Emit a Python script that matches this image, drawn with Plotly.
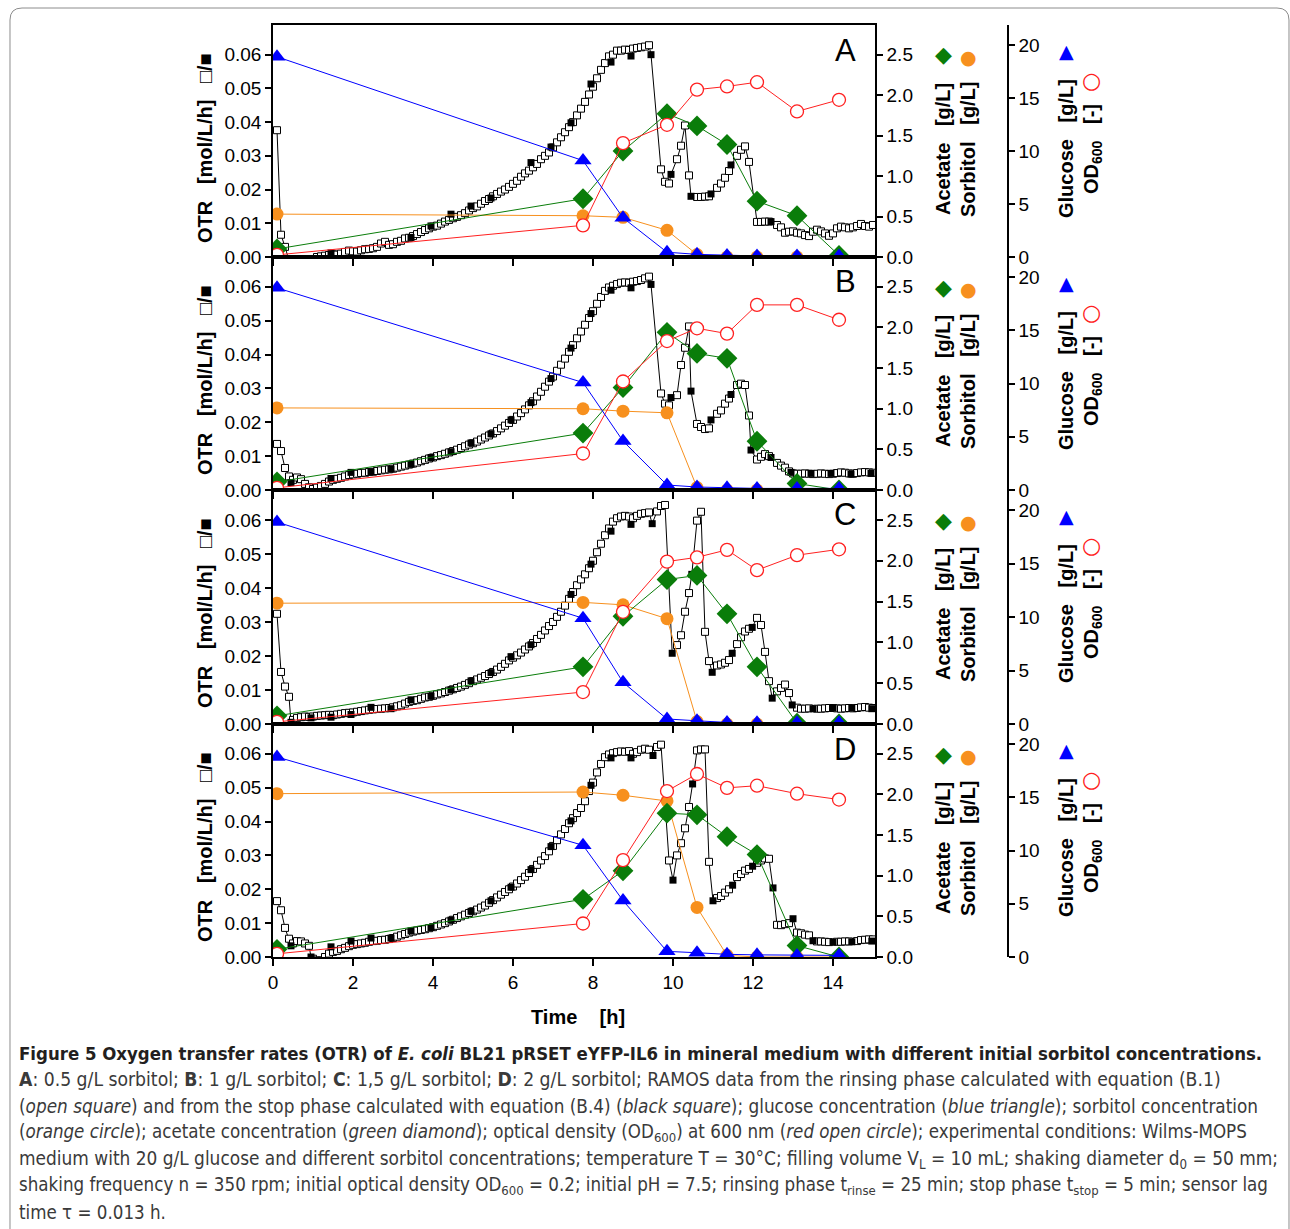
import plotly.graph_objects as go

W, H = 1290, 1229

# ---------------- data ----------------
# RAMOS rinsing-phase OTR (open squares), sampled every 0.1 h from 0.1 h to 15.0 h
T_OPEN = [round(0.1 * k, 1) for k in range(1, 151)]

OTR_OPEN_A = [
    0.0376, 0.0066, 0.0030, -0.001, -0.001, -0.001, -0.001, -0.001, -0.001, -0.001,
    0.0000, 0.0002, 0.0004, 0.0006, 0.0008, 0.0007, 0.0010, 0.0015, 0.0019, 0.0017,
    0.0016, 0.0020, 0.0023, 0.0024, 0.0026, 0.0030, 0.0040, 0.0045, 0.0036, 0.0038,
    0.0045, 0.0048, 0.0055, 0.0057, 0.0062, 0.0068, 0.0074, 0.0080, 0.0085, 0.0090,
    0.0093, 0.0099, 0.0105, 0.0110, 0.0115, 0.0119, 0.0124, 0.0130, 0.0138, 0.0145,
    0.0150, 0.0158, 0.0166, 0.0172, 0.0180, 0.0187, 0.0194, 0.0200, 0.0208, 0.0217,
    0.0226, 0.0238, 0.0248, 0.0256, 0.0266, 0.0276, 0.0290, 0.0300, 0.0310, 0.0325,
    0.0340, 0.0355, 0.0370, 0.0385, 0.0400, 0.0420, 0.0440, 0.0460, 0.0482, 0.0505,
    0.0530, 0.0555, 0.0575, 0.0595, 0.0600, 0.0612, 0.0612, 0.0615, 0.0614, 0.0618,
    0.0620, 0.0622, 0.0624, 0.0628, None, None, 0.0260, 0.0223, 0.0218, None,
    0.0290, 0.0330, 0.0390, 0.0242, None, 0.0178, 0.0178, 0.0179, 0.0180, None,
    0.0205, 0.0218, 0.0235, 0.0255, None, 0.0300, 0.0318, 0.0328, 0.0282, None,
    0.0104, 0.0104, 0.0105, 0.0105, None, 0.0095, 0.0088, 0.0072, 0.0075, 0.0076,
    0.0072, 0.0070, 0.0065, 0.0062, 0.0075, 0.0081, 0.0076, 0.0070, 0.0063, 0.0070,
    0.0085, 0.0090, 0.0088, 0.0085, 0.0088, 0.0092, 0.0098, 0.0092, 0.0090, 0.0095,
]
OTR_OPEN_B = [
    0.0136, 0.0115, 0.0065, 0.0040, 0.0030, 0.0037, 0.0032, 0.0018, 0.0008, 0.0003,
    0.0007, 0.0012, 0.0018, 0.0025, 0.0030, 0.0033, 0.0036, 0.0040, 0.0044, 0.0046,
    0.0048, 0.0050, 0.0051, 0.0053, 0.0054, 0.0056, 0.0058, 0.0060, 0.0061, 0.0063,
    0.0066, 0.0069, 0.0072, 0.0075, 0.0078, 0.0081, 0.0085, 0.0089, 0.0093, 0.0096,
    0.0100, 0.0103, 0.0107, 0.0111, 0.0115, 0.0119, 0.0124, 0.0129, 0.0134, 0.0138,
    0.0143, 0.0149, 0.0155, 0.0161, 0.0167, 0.0174, 0.0182, 0.0190, 0.0198, 0.0207,
    0.0217, 0.0227, 0.0238, 0.0250, 0.0262, 0.0276, 0.0290, 0.0305, 0.0320, 0.0335,
    0.0352, 0.0370, 0.0388, 0.0408, 0.0428, 0.0448, 0.0468, 0.0488, 0.0508, 0.0528,
    0.0550, 0.0570, 0.0588, 0.0598, 0.0603, 0.0608, 0.0612, 0.0613, 0.0612, 0.0615,
    0.0617, 0.0620, 0.0625, 0.0630, None, None, 0.0285, 0.0255, 0.0250, None,
    0.0280, 0.0369, 0.0420, 0.0483, None, 0.0195, 0.0186, 0.0180, 0.0182, None,
    0.0225, 0.0235, 0.0255, 0.0270, None, 0.0310, 0.0314, 0.0310, 0.0220, None,
    0.0090, 0.0098, 0.0106, 0.0100, None, 0.0080, 0.0072, 0.0066, 0.0055, 0.0049,
    0.0048, 0.0048, 0.0049, 0.0048, 0.0047, 0.0048, 0.0049, 0.0048, 0.0047, 0.0048,
    0.0050, 0.0052, 0.0051, 0.0049, 0.0048, 0.0050, 0.0052, 0.0053, 0.0052, 0.0051,
]
OTR_OPEN_C = [
    0.0324, 0.0153, 0.0110, 0.0080, 0.0012, 0.0018, 0.0020, 0.0022, 0.0021, 0.0022,
    0.0024, 0.0025, 0.0026, 0.0027, 0.0026, 0.0028, 0.0030, 0.0032, 0.0033, 0.0034,
    0.0036, 0.0038, 0.0040, 0.0042, 0.0043, 0.0044, 0.0045, 0.0046, 0.0047, 0.0049,
    0.0052, 0.0055, 0.0060, 0.0065, 0.0068, 0.0070, 0.0074, 0.0078, 0.0080, 0.0083,
    0.0087, 0.0090, 0.0094, 0.0098, 0.0102, 0.0106, 0.0110, 0.0115, 0.0120, 0.0126,
    0.0131, 0.0136, 0.0141, 0.0147, 0.0153, 0.0160, 0.0168, 0.0177, 0.0187, 0.0195,
    0.0202, 0.0210, 0.0219, 0.0228, 0.0238, 0.0250, 0.0262, 0.0275, 0.0288, 0.0300,
    0.0315, 0.0330, 0.0348, 0.0368, 0.0388, 0.0408, 0.0425, 0.0440, 0.0458, 0.0480,
    0.0505, 0.0530, 0.0555, 0.0575, 0.0595, 0.0605, 0.0610, 0.0612, 0.0610, 0.0605,
    0.0612, 0.0618, 0.0620, 0.0622, None, 0.0625, 0.0641, 0.0644, None, None,
    0.0232, 0.0261, 0.0330, 0.0385, None, 0.0598, 0.0624, 0.0271, 0.0185, None,
    0.0172, 0.0175, 0.0180, 0.0188, None, 0.0235, 0.0255, 0.0272, 0.0280, None,
    0.0312, 0.0291, 0.0212, 0.0126, None, 0.0096, 0.0106, 0.0116, 0.0091, None,
    0.0048, 0.0045, 0.0045, 0.0046, None, 0.0045, 0.0045, 0.0046, 0.0047, 0.0047,
    0.0046, 0.0045, 0.0046, 0.0047, 0.0046, 0.0047, 0.0049, 0.0050, 0.0048, 0.0047,
]
OTR_OPEN_D = [
    0.0165, 0.0138, 0.0086, 0.0054, 0.0040, 0.0047, 0.0046, 0.0040, 0.0033, -0.0005,
    -0.001, -0.001, 0.0000, 0.0010, 0.0015, 0.0018, 0.0023, 0.0027, 0.0032, 0.0036,
    0.0038, 0.0040, 0.0042, 0.0045, 0.0047, 0.0048, 0.0050, 0.0051, 0.0053, 0.0056,
    0.0060, 0.0064, 0.0068, 0.0072, 0.0075, 0.0078, 0.0080, 0.0082, 0.0085, 0.0088,
    0.0092, 0.0096, 0.0100, 0.0105, 0.0110, 0.0115, 0.0120, 0.0125, 0.0130, 0.0135,
    0.0140, 0.0146, 0.0152, 0.0160, 0.0168, 0.0176, 0.0184, 0.0192, 0.0200, 0.0208,
    0.0217, 0.0227, 0.0237, 0.0248, 0.0260, 0.0272, 0.0285, 0.0298, 0.0312, 0.0328,
    0.0345, 0.0362, 0.0378, 0.0395, 0.0410, 0.0425, 0.0440, 0.0460, 0.0490, 0.0515,
    0.0545, 0.0570, 0.0590, 0.0598, 0.0602, 0.0605, 0.0607, 0.0606, 0.0608, 0.0600,
    0.0605, 0.0612, 0.0615, 0.0612, None, 0.0620, 0.0627, None, 0.0285, None,
    0.0300, 0.0336, 0.0380, 0.0443, None, 0.0610, 0.0613, 0.0613, 0.0281, None,
    0.0174, 0.0180, 0.0190, 0.0200, None, 0.0236, 0.0245, 0.0255, 0.0260, None,
    0.0278, 0.0285, 0.0291, 0.0290, None, 0.0095, 0.0094, 0.0097, 0.0100, None,
    0.0072, 0.0070, 0.0066, 0.0064, None, 0.0046, 0.0046, 0.0045, 0.0044, None,
    0.0045, 0.0045, 0.0046, 0.0046, None, 0.0047, 0.0050, 0.0051, 0.0052, 0.0052,
]

# RAMOS stop-phase OTR (black squares)
BLACK_T_A = [1.45, 3.45, 3.95, 4.45, 4.95, 5.45, 6.45, 6.95, 7.45, 7.95, 8.45, 8.95,
             9.45, 9.95, 10.45, 10.95, 11.45, 12.45]
BLACK_A = [0.0012, 0.0058, 0.0092, 0.0127, 0.0151, 0.0175, 0.0280, 0.0326, 0.0398, 0.0513,
           0.0578, 0.0596, 0.0600, 0.0245, 0.0180, 0.0187, 0.0273, 0.0105]
BLACK_T_B = [0.45, 1.45, 1.95, 2.45, 2.95, 3.45, 3.95, 4.45, 4.95, 5.45, 5.95, 6.45, 6.95,
             7.45, 7.95, 8.45, 8.95, 9.45, 9.95, 10.45, 10.95, 11.45, 11.95, 12.45, 12.95,
             13.45, 13.95, 14.45, 14.95]
BLACK_B = [0.0022, 0.0034, 0.0052, 0.0054, 0.0062, 0.0076, 0.0096, 0.0113, 0.0139, 0.0166,
           0.0207, 0.0258, 0.0329, 0.0419, 0.0521, 0.0590, 0.0597, 0.0607, 0.0273, 0.0292,
           0.0207, 0.0282, 0.0118, 0.0096, 0.0052, 0.0049, 0.0049, 0.0047, 0.0049]
BLACK_T_C = [0.45, 0.95, 1.45, 1.95, 2.45, 2.95, 3.45, 3.95, 4.45, 4.95, 5.45, 5.95, 6.45,
             7.45, 7.95, 8.45, 8.95, 9.48, 9.98, 10.47, 10.98, 11.48, 11.98, 12.48, 12.98,
             13.5, 14.0, 14.47, 14.97]
BLACK_C = [0.0005, 0.0018, 0.0020, 0.0028, 0.0049, 0.0045, 0.0071, 0.0082, 0.0101, 0.0127,
           0.0151, 0.0198, 0.0233, 0.0381, 0.0470, 0.0567, 0.0587, 0.0589, 0.0208, 0.0440,
           0.0152, 0.0208, 0.0284, 0.0076, 0.0056, 0.0045, 0.0047, 0.0047, 0.0045]
BLACK_T_D = [0.45, 0.95, 1.45, 1.95, 2.45, 2.95, 3.45, 3.95, 4.45, 4.95, 5.45, 5.95, 6.45,
             6.95, 7.45, 7.95, 8.45, 8.95, 9.5, 10.0, 10.49, 11.0, 11.49, 11.99, 12.5, 13.0,
             13.5, 14.0, 14.47, 14.97]
BLACK_D = [0.0033, 0.0000, 0.0030, 0.0047, 0.0056, 0.0056, 0.0077, 0.0087, 0.0109, 0.0135,
           0.0166, 0.0206, 0.0258, 0.0326, 0.0402, 0.0507, 0.0588, 0.0588, 0.0595, 0.0227,
           0.0511, 0.0166, 0.0212, 0.0268, 0.0204, 0.0113, 0.0048, 0.0044, 0.0045, 0.0047]

# off-line samples
T_SAMPLE = [0.1, 7.75, 8.75, 9.85, 10.6, 11.35, 12.1, 13.1, 14.15]

GLU_A = [18.9, 9.1, 3.7, 0.45, 0.25, 0.15, 0.1, 0.1, 0.1]
GLU_B = [19.0, 10.1, 4.6, 0.47, 0.28, 0.2, 0.15, 0.15, 0.15]
GLU_C = [18.9, 9.9, 3.9, 0.47, 0.3, 0.15, 0.12, 0.12, 0.12]
GLU_D = [18.8, 10.5, 5.3, 0.53, 0.4, 0.25, 0.2, 0.15, 0.15]

SOR_A = [0.53, 0.51, 0.49, 0.33, 0.03, 0.0, 0.0, 0.0, 0.0]
SOR_B = [1.01, 1.00, 0.97, 0.95, 0.03, 0.0, 0.0, 0.0, 0.0]
SOR_C = [1.48, 1.49, 1.46, 1.29, 0.03, 0.0, 0.0, 0.0, 0.0]
SOR_D = [2.01, 2.03, 1.99, 1.92, 0.61, 0.02, 0.0, 0.0, 0.0]

ACE_A = [0.10, 0.72, 1.31, 1.77, 1.62, 1.39, 0.69, 0.51, 0.02]
ACE_B = [0.10, 0.70, 1.26, 1.94, 1.68, 1.62, 0.60, 0.08, 0.0]
ACE_C = [0.10, 0.70, 1.32, 1.77, 1.82, 1.35, 0.70, 0.01, 0.0]
ACE_D = [0.095, 0.71, 1.06, 1.77, 1.75, 1.48, 1.26, 0.14, 0.0]

OD_A = [0.2, 2.99, 10.75, 12.48, 15.8, 16.1, 16.5, 13.74, 14.84]
OD_B = [0.2, 3.43, 10.2, 14.0, 15.2, 14.7, 17.4, 17.4, 16.0]
OD_C = [0.2, 2.99, 10.5, 15.2, 15.6, 16.3, 14.4, 15.8, 16.35]
OD_D = [0.3, 3.15, 9.1, 15.6, 17.2, 15.9, 16.1, 15.35, 14.8]

PANEL_LETTERS = ["A", "B", "C", "D"]
X_TICKS = [0, 2, 4, 6, 8, 10, 12, 14]
OTR_TICKS = [0.00, 0.01, 0.02, 0.03, 0.04, 0.05, 0.06]
ACE_TICKS = [0.0, 0.5, 1.0, 1.5, 2.0, 2.5]
GLU_TICKS = [0, 5, 10, 15, 20]

CAPTION = [
    "<b>Figure 5 Oxygen transfer rates (OTR) of <i>E. coli</i> BL21 pRSET eYFP-IL6 in mineral medium with different initial sorbitol concentrations.</b>",
    "<b>A</b>: 0.5 g/L sorbitol; <b>B</b>: 1 g/L sorbitol; <b>C</b>: 1,5 g/L sorbitol; <b>D</b>: 2 g/L sorbitol; RAMOS data from the rinsing phase calculated with equation (B.1)",
    "(<i>open square</i>) and from the stop phase calculated with equation (B.4) (<i>black square</i>); glucose concentration (<i>blue triangle</i>); sorbitol concentration",
    "(<i>orange circle</i>); acetate concentration (<i>green diamond</i>); optical density (OD<sub>600</sub>) at 600 nm (<i>red open circle</i>); experimental conditions: Wilms-MOPS",
    "medium with 20 g/L glucose and different sorbitol concentrations; temperature T = 30°C; filling volume V<sub>L</sub> = 10 mL; shaking diameter d<sub>0</sub> = 50 mm;",
    "shaking frequency n = 350 rpm; initial optical density OD<sub>600</sub> = 0.2; initial pH = 7.5; rinsing phase t<sub>rinse</sub> = 25 min; stop phase t<sub>stop</sub> = 5 min; sensor lag",
    "time τ = 0.013 h.",
]
CAP_SIZES = [18.45, 19.2, 18.8, 18.6, 18.9, 18.6, 18.6]

panels = [
    dict(open=OTR_OPEN_A, bt=BLACK_T_A, bv=BLACK_A, glu=GLU_A, sor=SOR_A, ace=ACE_A, od=OD_A),
    dict(open=OTR_OPEN_B, bt=BLACK_T_B, bv=BLACK_B, glu=GLU_B, sor=SOR_B, ace=ACE_B, od=OD_B),
    dict(open=OTR_OPEN_C, bt=BLACK_T_C, bv=BLACK_C, glu=GLU_C, sor=SOR_C, ace=ACE_C, od=OD_C),
    dict(open=OTR_OPEN_D, bt=BLACK_T_D, bv=BLACK_D, glu=GLU_D, sor=SOR_D, ace=ACE_D, od=OD_D),
]

# ---------------- layout geometry (pixels) ----------------
PANEL_TOP = [25, 257, 490, 724]
PANEL_BOT = [257, 490, 724, 957]
X_LEFT, X_RIGHT, X_FREE = 273, 875, 1008
OTR_MAX = 0.0688
ACE_MAX = 2.867
GLU_MAX = 21.9

TICK_FONT = dict(family="Liberation Sans, Arial, sans-serif", size=19, color="black")
TITLE_FONT = dict(family="Liberation Sans, Arial, sans-serif", size=20, color="black")
CAP_FAMILY = "Liberation Sans Narrow, DejaVu Sans Condensed, sans-serif"

C_BLUE = "#0000ff"
C_ORANGE = "#f7901e"
C_GREEN = "#0a7d0a"
C_RED = "#ff2020"


def px(x):
    return x / W


def py(y):
    return 1 - y / H


def ref(kind, k):
    return kind if k == 1 else f"{kind}{k}"


def key(kind, k):
    return f"{kind}axis" if k == 1 else f"{kind}axis{k}"


fig = go.Figure()
layout_axes = {}
annotations = []
NB = "\u00a0"

COMMON_AX = dict(ticks="outside", tickwidth=1.5, tickcolor="black", showline=True,
                 linecolor="black", linewidth=1.5, showgrid=False, zeroline=False,
                 tickfont=TICK_FONT, automargin=False)

for i, p in enumerate(panels):
    xk = i + 1
    ym, ya, yg = 3 * i + 1, 3 * i + 2, 3 * i + 3
    xr = ref("x", xk)
    dom = [py(PANEL_BOT[i]), py(PANEL_TOP[i])]

    layout_axes[key("x", xk)] = dict(
        domain=[px(X_LEFT), px(X_RIGHT)], anchor=ref("y", ym), range=[0, 15.05],
        tickvals=X_TICKS, ticklen=7, mirror=True, showticklabels=(i == 3), **COMMON_AX,
    )
    layout_axes[key("y", ym)] = dict(
        domain=dom, anchor=xr, range=[0, OTR_MAX], tickvals=OTR_TICKS, tickformat=".2f",
        ticklen=6, **COMMON_AX,
    )
    layout_axes[key("y", ya)] = dict(
        overlaying=ref("y", ym), side="right", anchor=xr, range=[0, ACE_MAX],
        tickvals=ACE_TICKS, tickformat=".1f", ticklen=6, **COMMON_AX,
    )
    layout_axes[key("y", yg)] = dict(
        overlaying=ref("y", ym), side="right", anchor="free", position=px(X_FREE),
        range=[0, GLU_MAX], tickvals=GLU_TICKS, ticklen=6, **COMMON_AX,
    )

    # OTR: connecting line through all measured points in time order
    pts = [(t, v) for t, v in zip(T_OPEN, p["open"]) if v is not None]
    pts += list(zip(p["bt"], p["bv"]))
    pts.sort()
    fig.add_trace(go.Scatter(x=[a for a, _ in pts], y=[b for _, b in pts], xaxis=xr,
                             yaxis=ref("y", ym), mode="lines",
                             line=dict(color="black", width=1), hoverinfo="skip"))
    fig.add_trace(go.Scatter(x=T_OPEN, y=p["open"], xaxis=xr, yaxis=ref("y", ym),
                             mode="markers",
                             marker=dict(symbol="square", size=7, color="white",
                                         line=dict(color="black", width=1))))
    fig.add_trace(go.Scatter(x=p["bt"], y=p["bv"], xaxis=xr, yaxis=ref("y", ym),
                             mode="markers",
                             marker=dict(symbol="square", size=7, color="black")))
    # sorbitol & acetate
    fig.add_trace(go.Scatter(x=T_SAMPLE, y=p["sor"], xaxis=xr, yaxis=ref("y", ya),
                             mode="lines+markers", line=dict(color=C_ORANGE, width=1),
                             marker=dict(symbol="circle", size=13, color=C_ORANGE)))
    fig.add_trace(go.Scatter(x=T_SAMPLE, y=p["ace"], xaxis=xr, yaxis=ref("y", ya),
                             mode="lines+markers", line=dict(color=C_GREEN, width=1),
                             marker=dict(symbol="diamond", size=16, color=C_GREEN)))
    # OD600 & glucose
    fig.add_trace(go.Scatter(x=T_SAMPLE, y=p["od"], xaxis=xr, yaxis=ref("y", yg),
                             mode="lines+markers", line=dict(color=C_RED, width=1),
                             marker=dict(symbol="circle", size=13, color="white",
                                         line=dict(color=C_RED, width=1.3))))
    fig.add_trace(go.Scatter(x=T_SAMPLE, y=p["glu"], xaxis=xr, yaxis=ref("y", yg),
                             mode="lines+markers", line=dict(color=C_BLUE, width=1),
                             marker=dict(symbol="triangle-up", size=15, color=C_BLUE)))

    off = PANEL_TOP[i] - 25
    # panel letter
    annotations.append(dict(text=PANEL_LETTERS[i], x=px(845), y=py(50 + off), xref="paper",
                            yref="paper", showarrow=False, xanchor="center", yanchor="middle",
                            font=dict(family="Liberation Sans, Arial, sans-serif", size=31,
                                      color="black")))
    # left title
    annotations.append(dict(text=f"<b>OTR{NB*3}[mol/L/h]{NB*3}□/■</b>", x=px(205),
                            y=py(148 + off), xref="paper", yref="paper", showarrow=False,
                            textangle=-90, xanchor="center", yanchor="middle",
                            font=TITLE_FONT))
    # right titles
    for txt, xx in [(f"<b>Acetate{NB*3}[g/L]</b>", 943), (f"<b>Sorbitol{NB*3}[g/L]</b>", 968),
                    (f"<b>Glucose{NB*3}[g/L]</b>", 1066),
                    (f"<b>OD<sub>600</sub>{NB*3}[-]</b>", 1092)]:
        annotations.append(dict(text=txt, x=px(xx), y=py(149 + off), xref="paper",
                                yref="paper", showarrow=False, textangle=-90,
                                xanchor="center", yanchor="middle", font=TITLE_FONT))
    # symbol keys
    for sym, col, xx, yy, sz in [("◆", C_GREEN, 943, 55, 22), ("●", C_ORANGE, 968, 57, 19),
                                 ("▲", C_BLUE, 1066, 51, 19), ("○", C_RED, 1091, 80, 22)]:
        annotations.append(dict(text=sym, x=px(xx), y=py(yy + off), xref="paper",
                                yref="paper", showarrow=False, xanchor="center",
                                yanchor="middle",
                                font=dict(family="DejaVu Sans", size=sz, color=col)))

# x-axis title
annotations.append(dict(text=f"<b>Time{NB*4}[h]</b>", x=px(578), y=py(1017), xref="paper",
                        yref="paper", showarrow=False, xanchor="center", yanchor="middle",
                        font=TITLE_FONT))

# caption
CAP_Y = [1053, 1079, 1106, 1133, 1159, 1186, 1212]
for j, (line, yy, sz) in enumerate(zip(CAPTION, CAP_Y, CAP_SIZES)):
    annotations.append(dict(text=line, x=px(17), y=py(yy), xref="paper", yref="paper",
                            showarrow=False, xanchor="left", yanchor="middle",
                            font=dict(family=CAP_FAMILY, size=sz,
                                      color="#231f20" if j == 0 else "#3a3a3a")))

# rounded frame around the figure
def P(x, y):
    return f"{px(x):.5f},{py(y):.5f}"

frame = (f"M {P(10, 1240)} L {P(10, 20)} Q {P(10, 8)} {P(22, 8)} L {P(1277, 8)} "
         f"Q {P(1289, 8)} {P(1289, 20)} L {P(1289, 1240)}")

fig.update_layout(
    width=W, height=H, margin=dict(l=0, r=0, t=0, b=0, autoexpand=False),
    paper_bgcolor="white", plot_bgcolor="white", showlegend=False,
    annotations=annotations,
    shapes=[dict(type="path", path=frame, xref="paper", yref="paper",
                 line=dict(color="#8c8c8c", width=1))],
    **layout_axes,
)

fig.write_html("out.html")
